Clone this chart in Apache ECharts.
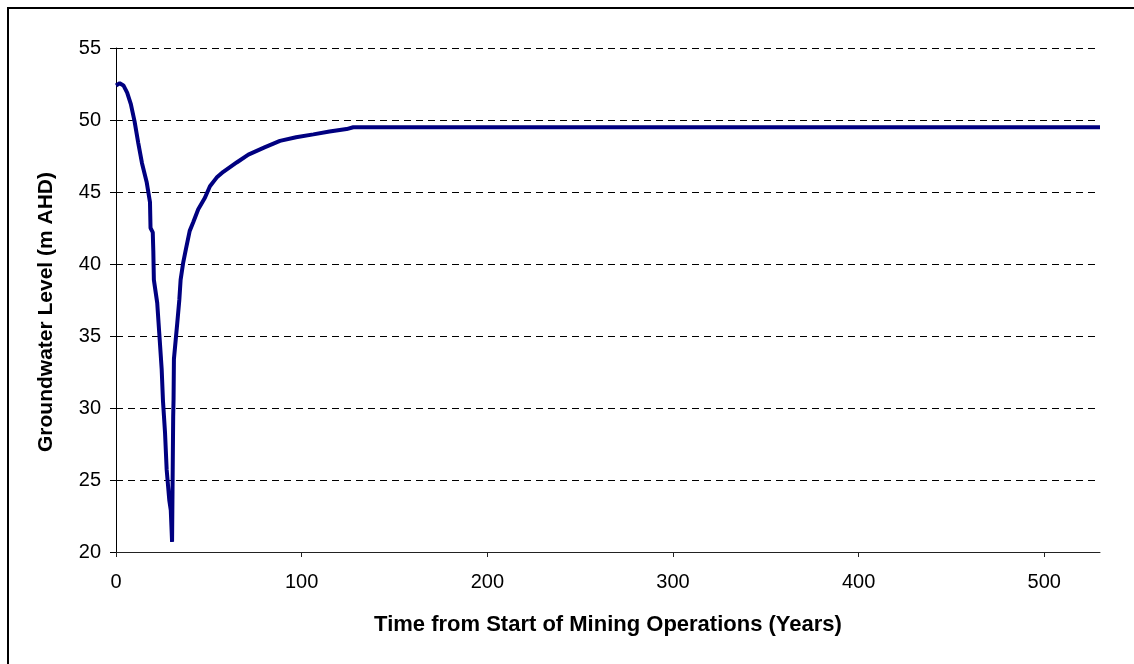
<!DOCTYPE html>
<html>
<head>
<meta charset="utf-8">
<script src="https://cdn.jsdelivr.net/npm/echarts@6/dist/echarts.min.js"></script>
<style>
  html, body { margin: 0; padding: 0; background: #fff; }
  #chart { width: 1134px; height: 664px; }
</style>
</head>
<body>
<div id="chart"></div>
<script>
// time (years) and groundwater level (m AHD)
var years = [0, 2, 4, 6, 8, 10, 12, 14, 16.5, 18.3, 18.6, 19.8, 20.1, 20.4, 22.2, 23.3, 24.6, 25.3,
    26.4, 27.3, 28.7, 29.5, 30.2, 30.8, 31.0, 31.2, 33.0, 34.1, 34.8, 36.2, 37.6, 39.7, 41.6,
    44.3, 47.9, 50.6, 54.2, 57.8, 65, 71.3, 80, 88.3, 97, 106.3, 115, 124.2, 127.8, 530];
var levels = [52.4, 52.55, 52.4, 51.9, 51.1, 49.9, 48.4, 47.0, 45.7, 44.3, 42.5, 42.2, 40.9, 38.9,
    37.3, 35.2, 32.7, 30.5, 28.3, 25.7, 23.6, 22.9, 20.7, 29.4, 30.6, 33.4, 35.9, 37.5, 38.9,
    40.1, 41.0, 42.3, 42.9, 43.8, 44.6, 45.4, 46.0, 46.4, 47.05, 47.6, 48.1, 48.55, 48.8, 49.0,
    49.2, 49.37, 49.5, 49.5];
var xTicks = [0, 100, 200, 300, 400, 500];

var points = years.map(function (t, i) { return [t, levels[i]]; });

var myChart = echarts.init(document.getElementById('chart'));
myChart.setOption({
    animation: false,
    backgroundColor: '#fff',
    graphic: [{
        type: 'rect',
        shape: {x: 8, y: 8, width: 1140, height: 680},
        style: {fill: 'none', stroke: '#000', lineWidth: 2}
    }],
    grid: {
        left: 116,
        right: 34,
        top: 48,
        bottom: 112
    },
    xAxis: {
        type: 'value',
        min: 0,
        max: 530,
        name: 'Time from Start of Mining Operations (Years)',
        nameLocation: 'middle',
        nameGap: 62,
        nameTextStyle: {fontFamily: 'Liberation Sans', fontSize: 22, fontWeight: 'bold', color: '#000'},
        axisLine: {lineStyle: {color: '#222', width: 1}},
        axisTick: {show: true, length: 5, customValues: xTicks, lineStyle: {color: '#222'}},
        axisLabel: {customValues: xTicks, margin: 20, fontFamily: 'Liberation Sans', fontSize: 20, color: '#000'},
        splitLine: {show: false}
    },
    yAxis: {
        type: 'value',
        min: 20,
        max: 55,
        interval: 5,
        name: 'Groundwater Level (m AHD)',
        nameLocation: 'middle',
        nameGap: 59,
        nameTextStyle: {fontFamily: 'Liberation Sans', fontSize: 21, fontWeight: 'bold', color: '#000', padding: [0, 24, 0, 0]},
        axisLine: {show: true, lineStyle: {color: '#000', width: 1}},
        axisTick: {show: true, length: 6, lineStyle: {color: '#000'}},
        axisLabel: {margin: 15, fontFamily: 'Liberation Sans', fontSize: 20, color: '#000'},
        splitLine: {show: true, lineStyle: {color: '#000', width: 1, type: [7, 5]}}
    },
    series: [{
        type: 'line',
        data: points,
        symbol: 'none',
        smooth: false,
        lineStyle: {color: '#000080', width: 4}
    }]
});
</script>
</body>
</html>
